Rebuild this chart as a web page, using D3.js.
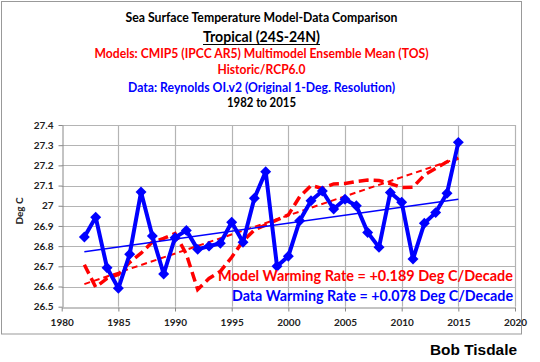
<!DOCTYPE html>
<html><head><meta charset="utf-8">
<script src="https://cdn.jsdelivr.net/npm/d3@7"></script>
<style>body{margin:0;background:#fff}svg{display:block}</style>
</head><body><svg id="c" width="540" height="362"></svg>
<script>
const years = d3.range(1982, 2016);
const dataValues = [26.845,26.943,26.693,26.591,26.760,27.068,26.850,26.662,26.842,26.878,
  26.784,26.800,26.814,26.918,26.819,27.037,27.169,26.700,26.750,26.926,
  27.025,27.073,26.984,27.032,27.000,26.868,26.794,27.066,27.017,26.736,
  26.913,26.966,27.062,27.314];
const modelValues = [26.708,26.597,26.640,26.660,26.720,26.765,26.820,26.838,26.863,26.760,
  26.585,26.640,26.675,26.745,26.825,26.880,26.905,26.930,26.955,27.045,
  27.100,27.086,27.108,27.110,27.120,27.127,27.125,27.110,27.090,27.092,
  27.152,27.185,27.218,27.236];
const modelTrend = [26.612, 27.236];   // 1982, 2015
const dataTrend = [26.772, 27.032];    // 1982, 2015
const yTicks = [26.5,26.6,26.7,26.8,26.9,27,27.1,27.2,27.3,27.4];
const xTicks = [1980,1985,1990,1995,2000,2005,2010,2015,2020];
const titles = [
  {t:"Sea Surface Temperature Model-Data Comparison", c:"#000", s:12.5, y:22, w:272},
  {t:"Tropical (24S-24N)", c:"#000", s:15, y:42, w:117, u:true},
  {t:"Models: CMIP5 (IPCC AR5) Multimodel Ensemble Mean (TOS)", c:"#ff0000", s:12.5, y:58, w:334},
  {t:"Historic/RCP6.0", c:"#ff0000", s:12.5, y:74, w:88},
  {t:"Data: Reynolds OI.v2 (Original 1-Deg. Resolution)", c:"#0000ff", s:12.5, y:92, w:267},
  {t:"1982 to 2015", c:"#000", s:12.5, y:107, w:69}
];
const legendLines = [
  {t:"Model Warming Rate = +0.189 Deg C/Decade", c:"#ff0000", y:281, x0:218, w:295},
  {t:"Data Warming Rate = +0.078 Deg C/Decade", c:"#0000ff", y:301, x0:232, w:281}
];

const svg = d3.select("#c");
const FF = "Lato, 'Open Sans', 'DejaVu Sans', sans-serif";
svg.append("rect").attr("x",1.5).attr("y",1.5).attr("width",520).attr("height",332.5)
  .attr("fill","#fff").attr("stroke","#999").attr("stroke-width",1);

const x = d3.scaleLinear().domain([1980,2020]).range([61.7,515]);
const y = d3.scaleLinear().domain([26.5,27.4]).range([306.7,125]);

// gridlines
const g = svg.append("g");
g.selectAll(".hg").data(yTicks.slice(1)).join("line")
  .attr("x1",x(1980)).attr("x2",x(2020)).attr("y1",d=>Math.round(y(d))+0.5).attr("y2",d=>Math.round(y(d))+0.5)
  .attr("stroke","#b4b4b4").attr("stroke-width",1.2);
g.selectAll(".vg").data(xTicks.slice(1)).join("line")
  .attr("x1",d=>Math.round(x(d))+0.5).attr("x2",d=>Math.round(x(d))+0.5).attr("y1",y(27.4)).attr("y2",y(26.5))
  .attr("stroke","#b4b4b4").attr("stroke-width",1.2);

// axes
const ax = svg.append("g").attr("transform",`translate(0,${Math.round(y(26.5))+0.5})`)
  .call(d3.axisBottom(x).tickValues(xTicks).tickSize(4).tickSizeOuter(0).tickFormat(d3.format("d")));
const ay = svg.append("g").attr("transform",`translate(${Math.round(x(1980))+0.5},0)`)
  .call(d3.axisLeft(y).tickValues(yTicks).tickSize(4).tickSizeOuter(0).tickFormat(d=>d===27?"27":d3.format(".1f")(d)));
[ax,ay].forEach(a=>{
  a.select(".domain").attr("stroke","#888");
  a.selectAll(".tick line").attr("stroke","#888");
  a.selectAll("text").attr("font-family",FF).attr("font-weight","bold").attr("font-size",10).attr("fill","#222");
});
ax.selectAll("text").attr("dy","1.1em");
ay.selectAll("text").attr("dx","-0.2em");

svg.append("text").attr("transform",`translate(23,211) rotate(-90)`).attr("text-anchor","middle")
  .attr("font-family",FF).attr("font-weight","bold").attr("font-size",10).attr("fill","#222").text("Deg C");

// model thick dashed
const line = d3.line().x((d,i)=>x(years[i])).y(d=>y(d));
svg.append("path").datum(modelValues).attr("d",line).attr("fill","none")
  .attr("stroke","#ff0000").attr("stroke-width",3.5).attr("stroke-dasharray","10,5");
// trends
svg.append("line").attr("x1",x(1982)).attr("x2",x(2015)).attr("y1",y(modelTrend[0])).attr("y2",y(modelTrend[1]))
  .attr("stroke","#ff0000").attr("stroke-width",2).attr("stroke-dasharray","6,4");
svg.append("line").attr("x1",x(1982)).attr("x2",x(2015)).attr("y1",y(dataTrend[0])).attr("y2",y(dataTrend[1]))
  .attr("stroke","#0000ff").attr("stroke-width",1.6);
// data
svg.append("path").datum(dataValues).attr("d",line).attr("fill","none")
  .attr("stroke","#0000ff").attr("stroke-width",4).attr("stroke-linejoin","round");
svg.selectAll(".dm").data(dataValues).join("path")
  .attr("d",d3.symbol(d3.symbolDiamond2? d3.symbolSquare : d3.symbolSquare, 60))
  .attr("transform",(d,i)=>`translate(${x(years[i])},${y(d)}) rotate(45)`).attr("fill","#0000ff");

// legend text
legendLines.forEach(l=>{
  svg.append("text").attr("x",l.x0).attr("y",l.y).attr("font-family",FF).attr("font-weight","bold")
    .attr("font-size",15.5).attr("fill",l.c).attr("textLength",l.w).attr("lengthAdjust","spacingAndGlyphs").text(l.t);
});

// titles
titles.forEach(t=>{
  const tx = svg.append("text").attr("x",261.5 - t.w/2).attr("y",t.y).attr("font-family",FF).attr("font-weight","bold")
    .attr("font-size",t.s).attr("fill",t.c).attr("textLength",t.w).attr("lengthAdjust","spacingAndGlyphs").text(t.t);
  if(t.u) svg.append("line").attr("x1",261.5-t.w/2).attr("x2",261.5+t.w/2).attr("y1",t.y+2.5).attr("y2",t.y+2.5)
    .attr("stroke",t.c).attr("stroke-width",1.2);
});

svg.append("text").attr("x",430).attr("y",355).attr("font-family","'Liberation Sans', Arial, sans-serif")
  .attr("font-weight","900").attr("font-size",14).attr("fill","#000").attr("textLength",87)
  .attr("lengthAdjust","spacingAndGlyphs").text("Bob Tisdale");
</script></body></html>
